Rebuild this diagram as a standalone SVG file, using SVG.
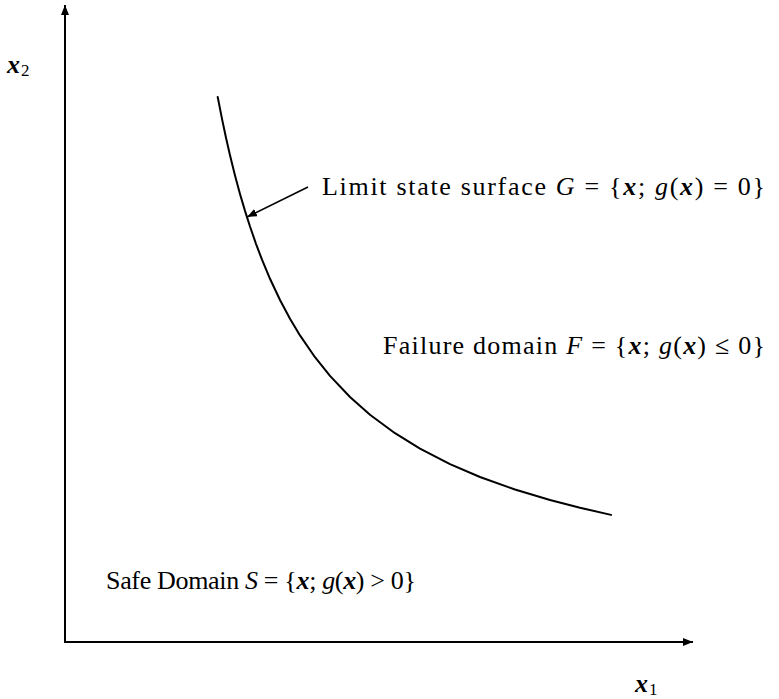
<svg xmlns="http://www.w3.org/2000/svg" width="779" height="699" viewBox="0 0 779 699">
<style>
  .ax { stroke:#000; stroke-width:2; fill:none; }
  .curve { stroke:#000; stroke-width:2; fill:none; stroke-linejoin:round; stroke-linecap:round; }
  .lbl { font-family:"Liberation Serif","Times New Roman",serif; font-size:26px; fill:#000; }
  .m { font-style:italic; }
  .v { font-style:italic; font-weight:bold; }
</style>
<defs>
  <marker id="ah" viewBox="0 0 10 8" refX="10" refY="4" markerWidth="10" markerHeight="8" markerUnits="userSpaceOnUse" orient="auto">
    <path d="M0,0 L10,4 L0,8 Z" fill="#000"/>
  </marker>
</defs>
<rect width="779" height="699" fill="#fff"/>
<g id="axes">
  <line class="ax" x1="65" y1="642" x2="65" y2="5" marker-end="url(#ah)"/>
  <line class="ax" x1="64" y1="642" x2="693" y2="642" marker-end="url(#ah)"/>
</g>
<g id="limit-curve">
  <polyline class="curve" points="217.7,97 222,118.9 226,137.8 230,155.3 235,175.4 240,193.9 245,210.9 250,226.5 256,243.8 262,259.7 270,278.8 280,300 290,318.8 300,335.4 315,357.2 330,375.9 350,397 370,414.7 395,433.2 420,448.6 450,464.1 480,477 515,489.5 550,500 580,507.7 611,514.9"/>
</g>
<g id="connectors">
  <line x1="308" y1="187" x2="247" y2="217" stroke="#000" stroke-width="1.6" marker-end="url(#ah)"/>
</g>
<g id="label-x2">
  <text class="lbl" x="7" y="73" font-size="25"><tspan class="v">x</tspan><tspan font-size="17" dx="1" dy="3">2</tspan></text>
</g>
<g id="label-x1">
  <text class="lbl" x="635" y="692" font-size="25"><tspan class="v">x</tspan><tspan font-size="17" dx="1" dy="3">1</tspan></text>
</g>
<g id="label-limit">
  <text class="lbl" x="322" y="195" textLength="443" lengthAdjust="spacing">Limit state surface <tspan class="m">G</tspan> = {<tspan class="v">x</tspan>; <tspan class="m">g</tspan>(<tspan class="v">x</tspan>) = 0}</text>
</g>
<g id="label-failure">
  <text class="lbl" x="383" y="354" textLength="382" lengthAdjust="spacing">Failure domain <tspan class="m">F</tspan> = {<tspan class="v">x</tspan>; <tspan class="m">g</tspan>(<tspan class="v">x</tspan>) ≤ 0}</text>
</g>
<g id="label-safe">
  <text class="lbl" x="106" y="589" textLength="310" lengthAdjust="spacing">Safe Domain <tspan class="m">S</tspan> = {<tspan class="v">x</tspan>; <tspan class="m">g</tspan>(<tspan class="v">x</tspan>) &gt; 0}</text>
</g>
</svg>
